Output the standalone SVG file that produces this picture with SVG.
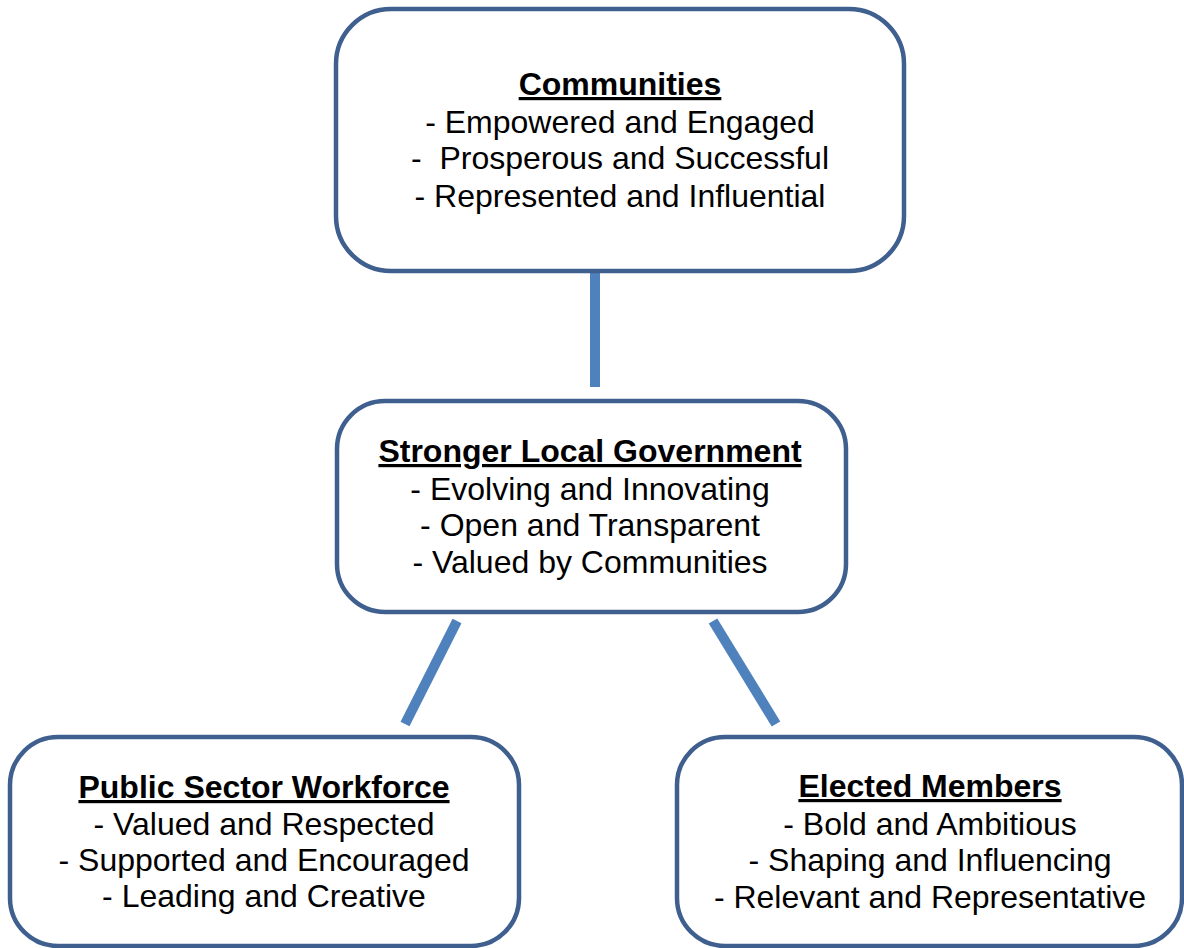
<svg xmlns="http://www.w3.org/2000/svg" width="1184" height="948" viewBox="0 0 1184 948">
<style>
.box{fill:#fff;stroke:#3f5f8f;stroke-width:4.5}
.conn{stroke:#4f81bd;stroke-width:10;fill:none}
text{font-family:"Liberation Sans",Arial,sans-serif;font-size:32px;fill:#000;text-anchor:middle;white-space:pre}
.h{font-weight:bold;text-decoration:underline}
</style>
<rect width="1184" height="948" fill="#fff"/>
<g id="connectors">
<line class="conn" x1="595" y1="272" x2="595" y2="387"/>
<line class="conn" x1="457" y1="621" x2="405" y2="724"/>
<line class="conn" x1="713" y1="621" x2="776" y2="724"/>
</g>
<g id="communities">
<rect class="box" x="336" y="9" width="568" height="262" rx="55"/>
<text x="620" y="95" class="h">Communities</text>
<text x="620" y="133">- Empowered and Engaged</text>
<text x="620" y="169" xml:space="preserve">-  Prosperous and Successful</text>
<text x="620" y="207">- Represented and Influential</text>
</g>
<g id="government">
<rect class="box" x="337" y="401" width="509" height="211" rx="48"/>
<text x="590" y="462" class="h">Stronger Local Government</text>
<text x="590" y="500">- Evolving and Innovating</text>
<text x="590" y="536">- Open and Transparent</text>
<text x="590" y="573">- Valued by Communities</text>
</g>
<g id="workforce">
<rect class="box" x="10" y="737" width="509" height="209" rx="48"/>
<text x="264" y="798" class="h">Public Sector Workforce</text>
<text x="264" y="835">- Valued and Respected</text>
<text x="264" y="871">- Supported and Encouraged</text>
<text x="264" y="907">- Leading and Creative</text>
</g>
<g id="members">
<rect class="box" x="677" y="737" width="505" height="209" rx="48"/>
<text x="930" y="797" class="h">Elected Members</text>
<text x="930" y="835">- Bold and Ambitious</text>
<text x="930" y="871">- Shaping and Influencing</text>
<text x="930" y="908">- Relevant and Representative</text>
</g>
</svg>
